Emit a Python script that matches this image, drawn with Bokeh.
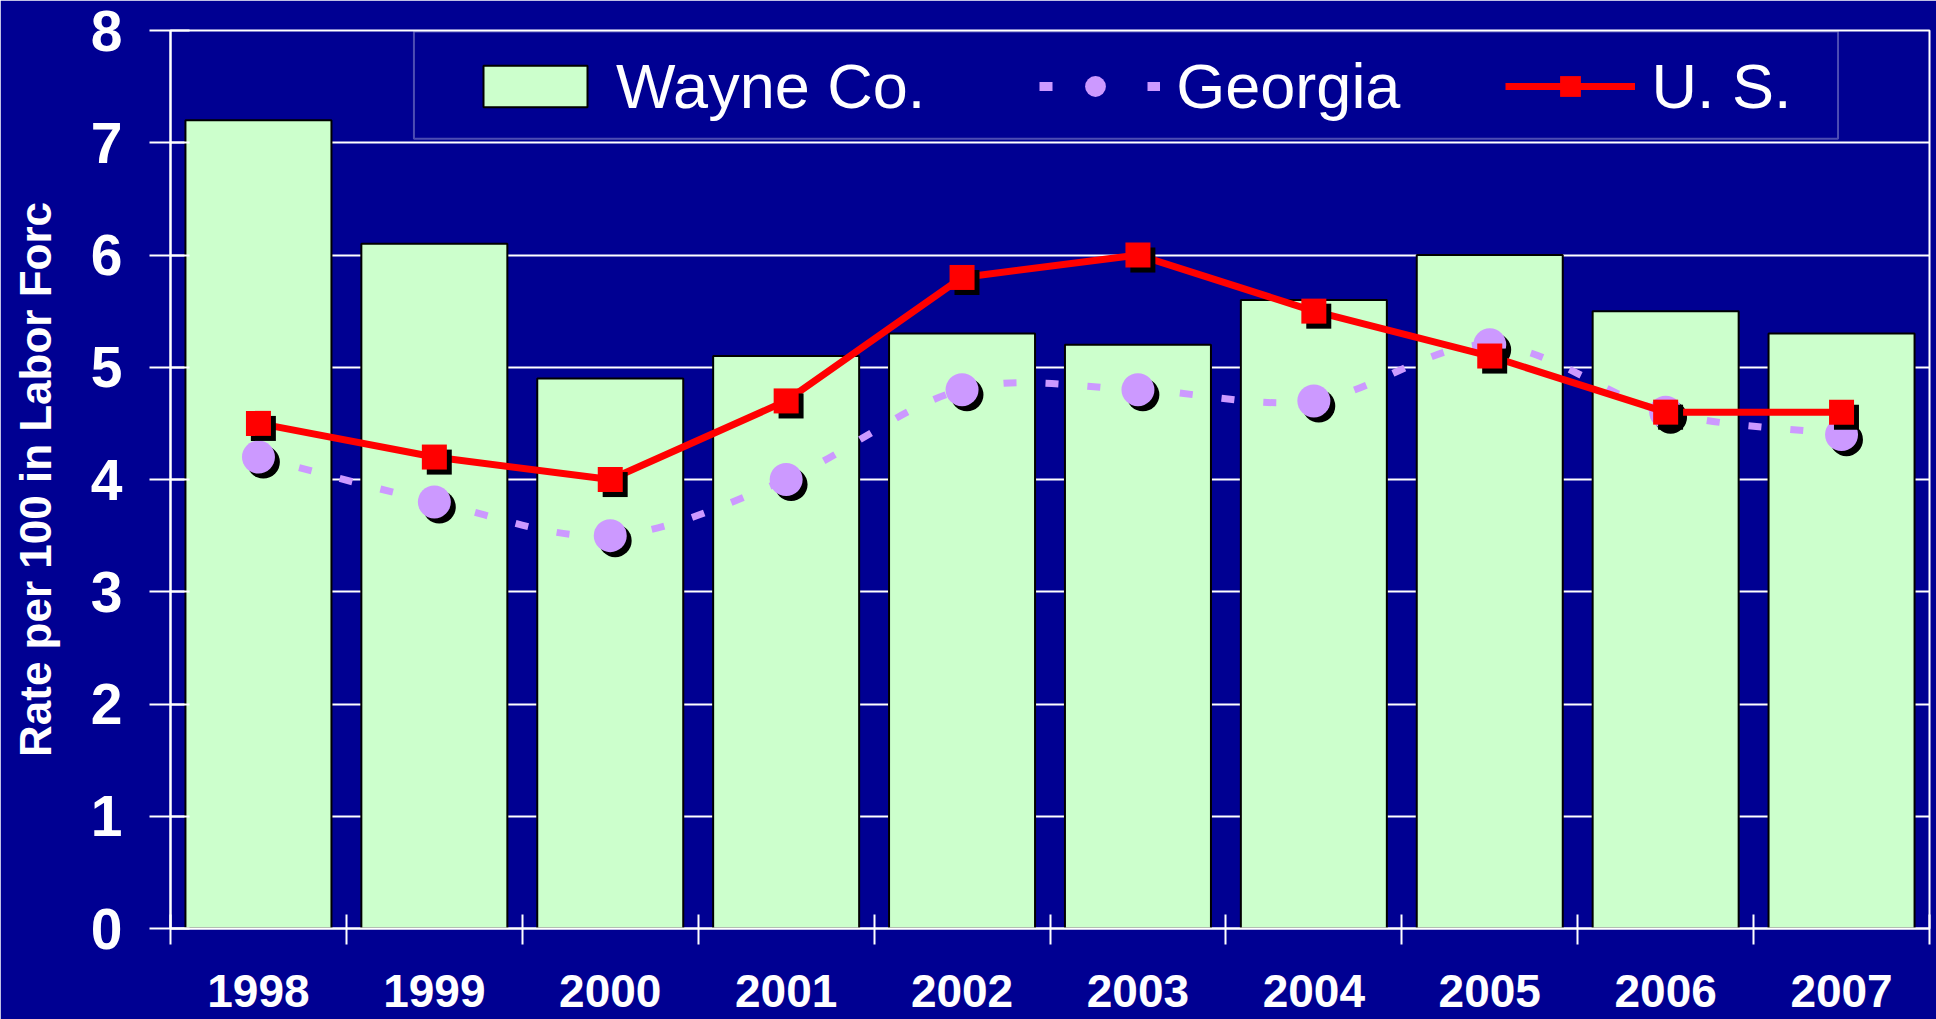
import numpy as np
from bokeh.plotting import figure
from bokeh.models import (Range1d, FixedTicker, Legend, LegendItem, BoxAnnotation,
                          ColumnDataSource)
from bokeh.transform import dodge
from bokeh.embed import file_html
from bokeh.resources import INLINE

# ---- data ----
years = ["1998", "1999", "2000", "2001", "2002", "2003", "2004", "2005", "2006", "2007"]
wayne = [7.2, 6.1, 4.9, 5.1, 5.3, 5.2, 5.6, 6.0, 5.5, 5.3]
georgia = [4.2, 3.8, 3.5, 4.0, 4.8, 4.8, 4.7, 5.2, 4.6, 4.4]
us = [4.5, 4.2, 4.0, 4.7, 5.8, 6.0, 5.5, 5.1, 4.6, 4.6]
y_ticks = [0, 1, 2, 3, 4, 5, 6, 7, 8]
series_names = ["Wayne Co.", "Georgia", "U. S."]
y_title = "Rate per 100 in Labor Forc"

# ---- style ----
BG = "#000092"
BAR = "#CCFFCC"
GEO = "#CC99FF"
RED = "#FF0000"
FONT = "Liberation Sans"

n = len(years)
xs = np.arange(1, n + 1, dtype=float)
src = ColumnDataSource(dict(x=xs, wayne=wayne, georgia=georgia, us=us))

p = figure(width=1936, height=1019, output_backend="svg", toolbar_location=None,
           x_range=Range1d(0.5, n + 0.5), y_range=Range1d(y_ticks[0], y_ticks[-1]),
           min_border_left=170, min_border_right=7, min_border_top=30, min_border_bottom=91,
           background_fill_color=BG, border_fill_color=BG,
           outline_line_color="white", outline_line_width=2)

# grid
p.xgrid.grid_line_color = None
p.ygrid.ticker = FixedTicker(ticks=y_ticks)
p.ygrid.grid_line_color = "white"
p.ygrid.grid_line_width = 2

# y axis
p.yaxis.ticker = FixedTicker(ticks=y_ticks)
p.yaxis.axis_line_color = "white"
p.yaxis.axis_line_width = 2
p.yaxis.major_tick_line_color = "white"
p.yaxis.major_tick_line_width = 2
p.yaxis.major_tick_in = 19
p.yaxis.major_tick_out = 21
p.yaxis.minor_tick_line_color = None
p.yaxis.major_label_text_font = FONT
p.yaxis.major_label_text_font_style = "bold"
p.yaxis.major_label_text_font_size = "57px"
p.yaxis.major_label_text_color = "white"
p.yaxis.major_label_standoff = 27
p.yaxis.axis_label = y_title
p.yaxis.axis_label_text_font = FONT
p.yaxis.axis_label_text_font_style = "bold"
p.yaxis.axis_label_text_font_size = "44px"
p.yaxis.axis_label_text_color = "white"
p.yaxis.axis_label_standoff = 28

# x axis: category boundaries as minor ticks, year labels at centres
p.xaxis.ticker = FixedTicker(ticks=list(xs), minor_ticks=list(np.arange(0.5, n + 1, 1.0)))
p.xaxis.major_label_overrides = {float(x): y for x, y in zip(xs, years)}
p.xaxis.axis_line_color = "white"
p.xaxis.axis_line_width = 2
p.xaxis.major_tick_line_color = None
p.xaxis.major_tick_in = 0
p.xaxis.major_tick_out = 0
p.xaxis.minor_tick_line_color = "white"
p.xaxis.minor_tick_line_width = 2
p.xaxis.minor_tick_in = 14
p.xaxis.minor_tick_out = 16
p.xaxis.major_label_text_font = FONT
p.xaxis.major_label_text_font_style = "bold"
p.xaxis.major_label_text_font_size = "46px"
p.xaxis.major_label_text_color = "white"
p.xaxis.major_label_standoff = 30

# bars
bars = p.vbar(x="x", top="wayne", width=0.83, source=src,
              fill_color=BAR, line_color="black", line_width=2)

# Georgia: smoothed dashed curve drawn as bezier segments through the points
gy = np.array(georgia, dtype=float)
slope = np.gradient(gy)
p.bezier(x0=xs[:-1], y0=gy[:-1], x1=xs[1:], y1=gy[1:],
         cx0=xs[:-1] + 1 / 3, cy0=gy[:-1] + slope[:-1] / 3,
         cx1=xs[1:] - 1 / 3, cy1=gy[1:] - slope[1:] / 3,
         line_color=GEO, line_width=7, line_dash="13 29")
p.scatter(x=dodge("x", 0.028), y=dodge("georgia", -0.045), source=src,
          marker="circle", size=33, fill_color="black", line_color=None)
geo_pts = p.scatter(x="x", y="georgia", source=src, marker="circle", size=33,
                    fill_color=GEO, line_color=None)
# legend swatch line (a single point draws nothing in the plot)
geo_leg = p.line(x=xs[:1], y=gy[:1], line_color=GEO, line_width=9, line_dash="0 9 13 86")

# U.S.
us_line = p.line(x="x", y="us", source=src, line_color=RED, line_width=7)
p.scatter(x=dodge("x", 0.028), y=dodge("us", -0.045), source=src,
          marker="square", size=25, fill_color="black", line_color=None)
us_pts = p.scatter(x="x", y="us", source=src, marker="square", size=25,
                   fill_color=RED, line_color=None)

# legend frame
p.add_layout(BoxAnnotation(left=1.884, right=9.98, top=7.99, bottom=7.035,
                           fill_alpha=0, line_color="white", line_width=2))

legend = Legend(items=[LegendItem(label=series_names[0], renderers=[bars]),
                       LegendItem(label=series_names[1], renderers=[geo_leg, geo_pts]),
                       LegendItem(label=series_names[2], renderers=[us_line, us_pts])],
                orientation="horizontal", location=(300, 806), padding=0, margin=0,
                spacing=105, label_standoff=16, glyph_width=130, glyph_height=52,
                label_height=52, label_text_font=FONT, label_text_font_size="63px",
                label_text_color="white", background_fill_alpha=0, border_line_alpha=0)
p.add_layout(legend)

open("out.html", "w").write(file_html(p, INLINE))
